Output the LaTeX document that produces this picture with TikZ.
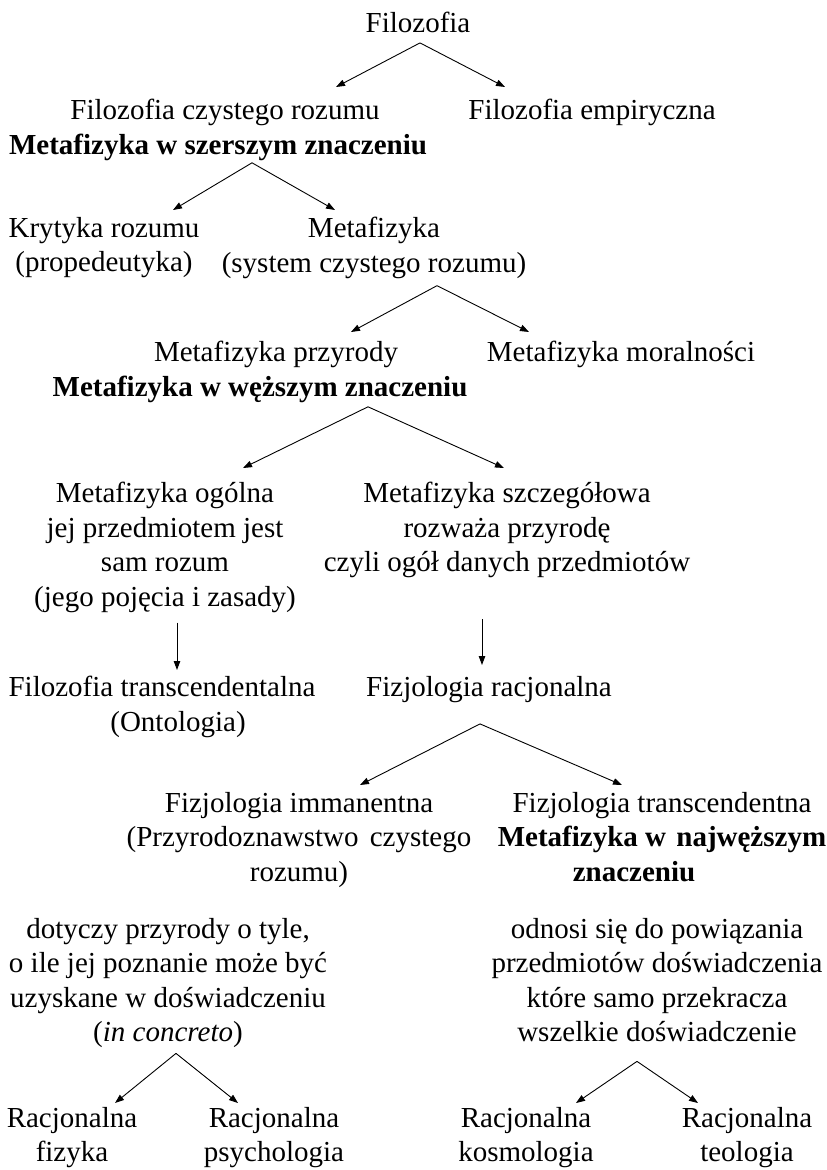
\documentclass[tikz,border=0pt]{standalone}
\usepackage{fontspec}
\setmainfont{Liberation Serif}
\usetikzlibrary{arrows.meta,positioning}
\tikzset{
  txt/.style={anchor=north, align=center, inner sep=0pt, execute at begin node=\strut},
  bold/.style={txt, font=\fontsize{29}{34.5}\selectfont\bfseries},
  arrow/.style={-{Triangle[length=9pt,width=6.5pt]}, line width=0.9pt}
}

\begin{document}
\begin{tikzpicture}[x=1pt, y=-1pt, font=\fontsize{29}{34.5}\selectfont]
  \fill[white] (0,0) rectangle (827,1170);
  \useasboundingbox (0,0) rectangle (827,1170);

  % top levels
  \node[txt] (filo) at (418,8) {Filozofia};
  \node[txt] (czysty) at (225,95) {Filozofia czystego rozumu};
  \node[bold, below=0pt of czysty, xshift=-7pt] (szersze) {Metafizyka w szerszym znaczeniu};
  \node[txt] (empir) at (592,95) {Filozofia empiryczna};
  \node[txt] (krytyka) at (104,217) {Krytyka rozumu\\(propedeutyka)};
  \node[txt] (metaf) at (374,217) {Metafizyka\\(system czystego rozumu)};
  \node[txt] (przyroda) at (276,337) {Metafizyka przyrody};
  \node[bold, below=0pt of przyroda, xshift=-16pt] (wezsze) {Metafizyka w węższym znaczeniu};
  \node[txt] (moral) at (621,337) {Metafizyka moralności};

  % general / special
  \node[txt] (ogolna) at (165,482) {Metafizyka ogólna\\jej przedmiotem jest\\sam rozum\\(jego pojęcia i zasady)};
  \node[txt] (szczeg) at (507,482) {Metafizyka szczegółowa\\rozważa przyrodę\\czyli ogół danych przedmiotów};
  \node[txt] (transc) at (162,672) {Filozofia transcendentalna};
  \node[txt, below=0pt of transc, xshift=16pt] (onto) {(Ontologia)};
  \node[txt] (racjon) at (489,672) {Fizjologia racjonalna};
  \node[txt] (immanent) at (299,792) {Fizjologia immanentna\\(Przyrodoznawstwo\hspace{4pt} czystego\\rozumu)};
  \node[txt] (transcend) at (662,792) {Fizjologia transcendentna\\\textbf{Metafizyka w\hspace{3pt} najwęższym}\\\textbf{znaczeniu}\hspace*{56pt}};
  \node[txt] (dotyczy) at (168,918) {dotyczy przyrody o tyle,\\o ile jej poznanie może być\\uzyskane w doświadczeniu\\(\textit{in concreto})};
  \node[txt] (odnosi) at (657,918) {odnosi się do powiązania\\przedmiotów doświadczenia\\które samo przekracza\\wszelkie doświadczenie};

  % bottom row
  \node[txt] (fizyka) at (72,1107) {Racjonalna\\fizyka};
  \node[txt] (psych) at (274,1107) {Racjonalna\\psychologia};
  \node[txt] (kosmo) at (526,1107) {Racjonalna\\kosmologia};
  \node[txt] (teol) at (747,1107) {Racjonalna\\teologia};

  % arrows
  \draw[arrow] ([xshift=2pt]filo.south) -- ([shift={(111pt,8pt)}]czysty.north);
  \draw[arrow] ([xshift=2pt]filo.south) -- ([shift={(-87pt,8pt)}]empir.north);
  \draw[arrow] ([shift={(34pt,2pt)}]szersze.south) -- ([shift={(69pt,7pt)}]krytyka.north);
  \draw[arrow] ([shift={(34pt,2pt)}]szersze.south) -- ([shift={(-39pt,7pt)}]metaf.north);
  \draw[arrow] ([shift={(63pt,-3pt)}]metaf.south) -- ([shift={(75pt,5pt)}]przyroda.north);
  \draw[arrow] ([shift={(63pt,-3pt)}]metaf.south) -- ([shift={(-92pt,5pt)}]moral.north);
  \draw[arrow] ([xshift=108pt]wezsze.south) -- ([shift={(78pt,14pt)}]ogolna.north);
  \draw[arrow] ([xshift=108pt]wezsze.south) -- ([shift={(-3pt,14pt)}]szczeg.north);
  \draw[arrow] ([shift={(12pt,-6pt)}]ogolna.south) -- ([shift={(15pt,2pt)}]transc.north);
  \draw[arrow] ([shift={(-25pt,-37pt)}]szczeg.south) -- ([shift={(-7pt,7pt)}]racjon.north);
  \draw[arrow] ([shift={(-9pt,-17pt)}]racjon.south) -- ([shift={(61pt,7pt)}]immanent.north);
  \draw[arrow] ([shift={(-9pt,-17pt)}]racjon.south) -- ([shift={(-40pt,7pt)}]transcend.north);
  \draw[arrow] ([shift={(8pt,-1pt)}]dotyczy.south) -- ([shift={(43pt,4pt)}]fizyka.north);
  \draw[arrow] ([shift={(8pt,-1pt)}]dotyczy.south) -- ([shift={(-36pt,4pt)}]psych.north);
  \draw[arrow] ([shift={(-20pt,-9pt)}]odnosi.south) -- ([shift={(50pt,4pt)}]kosmo.north);
  \draw[arrow] ([shift={(-20pt,-9pt)}]odnosi.south) -- ([shift={(-49pt,4pt)}]teol.north);
\end{tikzpicture}
\end{document}
